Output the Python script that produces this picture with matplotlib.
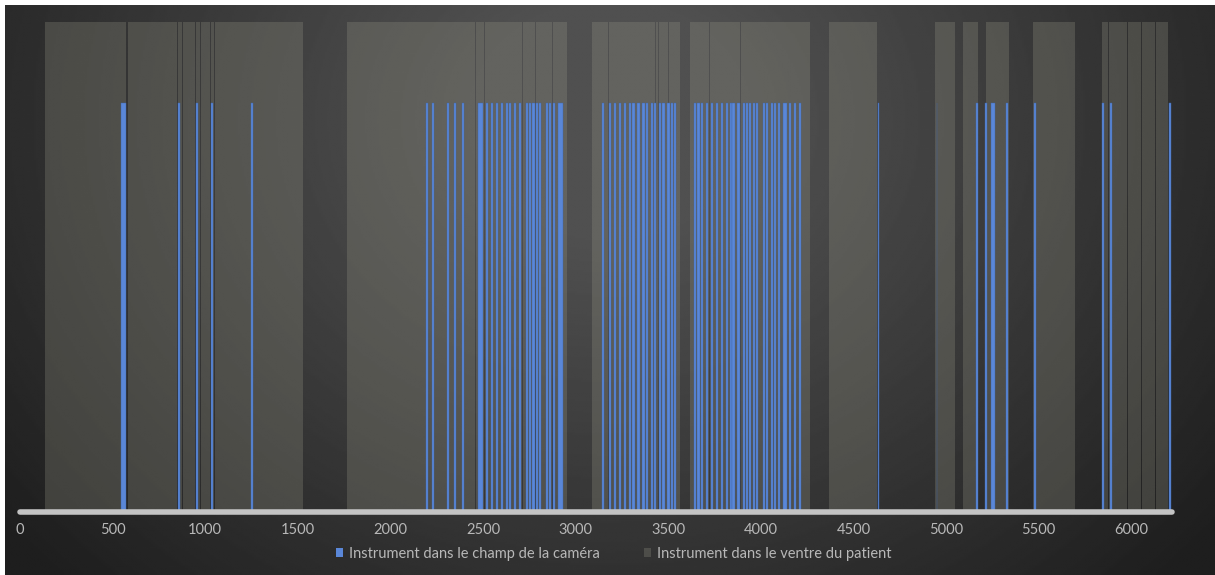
import numpy as np
import matplotlib
matplotlib.use("Agg")
import matplotlib.pyplot as plt
from matplotlib.patches import Patch

# frames where the instrument is inside the patient (grey bands)
patient_start = [133, 581, 851, 878, 950, 977, 1031, 1053,
                 1766, 2463, 2509, 2716, 2787, 2876,
                 3089, 3178, 3432, 3448, 3505,
                 3618, 3724, 3891,
                 4369, 4941, 5091, 5214, 5471,
                 5843, 5878, 5981, 6057, 6132]
patient_end = [572, 845, 872, 945, 972, 1026, 1048, 1528,
               2457, 2503, 2711, 2781, 2870, 2952,
               3173, 3427, 3443, 3500, 3564,
               3718, 3886, 4266,
               4625, 5049, 5174, 5341, 5697,
               5873, 5976, 6051, 6127, 6197]

# frames where the instrument is visible in the camera (blue lines)
camera_start = [546, 854, 951, 1031, 1246,
                2193, 2224, 2306, 2344, 2387, 2472, 2515, 2542, 2569, 2596,
                2623, 2641, 2668, 2695, 2731, 2749, 2767, 2785, 2803, 2839,
                2857, 2880, 2905,
                3142, 3181, 3208, 3235, 3262, 3289, 3307, 3334, 3361, 3379,
                3406, 3424, 3451, 3469, 3496, 3514, 3532,
                3640, 3658, 3676, 3703, 3730, 3757, 3784, 3811, 3834, 3847,
                3874, 3901, 3919, 3937, 3956, 3974, 4009, 4027, 4054, 4072,
                4090, 4122, 4153, 4180, 4207,
                4633, 4949, 5162, 5212, 5245, 5324, 5476, 5840, 5887, 6205]
camera_end = [571, 865, 962, 1044, 1257,
              2204, 2235, 2317, 2355, 2398, 2502, 2526, 2553, 2580, 2607,
              2634, 2652, 2679, 2706, 2742, 2760, 2778, 2796, 2814, 2850,
              2868, 2891, 2932,
              3153, 3192, 3219, 3246, 3273, 3300, 3318, 3345, 3372, 3390,
              3417, 3435, 3462, 3480, 3507, 3525, 3543,
              3651, 3669, 3687, 3714, 3741, 3768, 3795, 3822, 3845, 3858,
              3885, 3912, 3930, 3948, 3967, 3985, 4020, 4038, 4065, 4083,
              4101, 4140, 4164, 4191, 4218,
              4637, 4953, 5173, 5223, 5262, 5335, 5487, 5851, 5898, 6216]

patient_level = 1.0
camera_level = 0.835
x_ticks = [0, 500, 1000, 1500, 2000, 2500, 3000, 3500, 4000, 4500, 5000, 5500, 6000]

label_camera = "Instrument dans le champ de la caméra"
label_patient = "Instrument dans le ventre du patient"

blue = "#5a87d8"
band = (150 / 255, 150 / 255, 134 / 255)
text_col = "#b8b8b8"

plt.rcParams["font.family"] = ["Lato", "DejaVu Sans"]

fig = plt.figure(figsize=(12.15, 5.75), dpi=100, facecolor="white")

# dark radial backdrop
bg = fig.add_axes([5 / 1215, 0, 1210 / 1215, 570 / 575])
gx, gy = np.meshgrid(np.linspace(0, 1, 600), np.linspace(0, 1, 300))
r = np.sqrt(((gx - 0.5) / 0.5) ** 2 + ((gy - 0.2) / 0.9) ** 2)
shade = np.clip(91 - 47.4 * r, 30, 80) / 255
bg.imshow(shade, cmap="gray", vmin=0, vmax=1, aspect="auto",
          extent=[0, 1, 1, 0], interpolation="bilinear")
bg.axis("off")

ax = fig.add_axes([20 / 1215, 63 / 575, 1152 / 1215, 490 / 575])
ax.set_facecolor("none")

p_start = np.array(patient_start)
p_end = np.array(patient_end)
ax.bar(p_start, [patient_level] * len(p_start), width=p_end - p_start,
       align="edge", color=band, alpha=0.28, linewidth=0, zorder=1)

c_start = np.array(camera_start)
c_end = np.array(camera_end)
ax.bar(c_start, [camera_level] * len(c_start), width=c_end - c_start,
       align="edge", color=blue, edgecolor="#3f66a8", linewidth=0.3, zorder=2)

ax.set_xlim(0, 6220)
ax.set_ylim(0, patient_level)
ax.set_xticks(x_ticks)
ax.set_yticks([])
ax.tick_params(axis="x", length=0, pad=8, labelsize=10.5, labelcolor=text_col)
for side in ["top", "left", "right"]:
    ax.spines[side].set_visible(False)
ax.spines["bottom"].set_color("#c4c4c4")
ax.spines["bottom"].set_linewidth(4)
ax.spines["bottom"].set_capstyle("round")
ax.spines["bottom"].set_zorder(5)

handles = [Patch(facecolor=blue, edgecolor="none", label=label_camera),
           Patch(facecolor=band, alpha=0.28, edgecolor="none", label=label_patient)]
fig.legend(handles=handles, loc="center", bbox_to_anchor=(0.505, 0.037), ncol=2,
           frameon=False, fontsize=10.5, labelcolor=text_col,
           handlelength=0.5, handleheight=0.6, handletextpad=0.4,
           columnspacing=3.0)

fig.savefig("out.png", dpi=100, facecolor=fig.get_facecolor())
